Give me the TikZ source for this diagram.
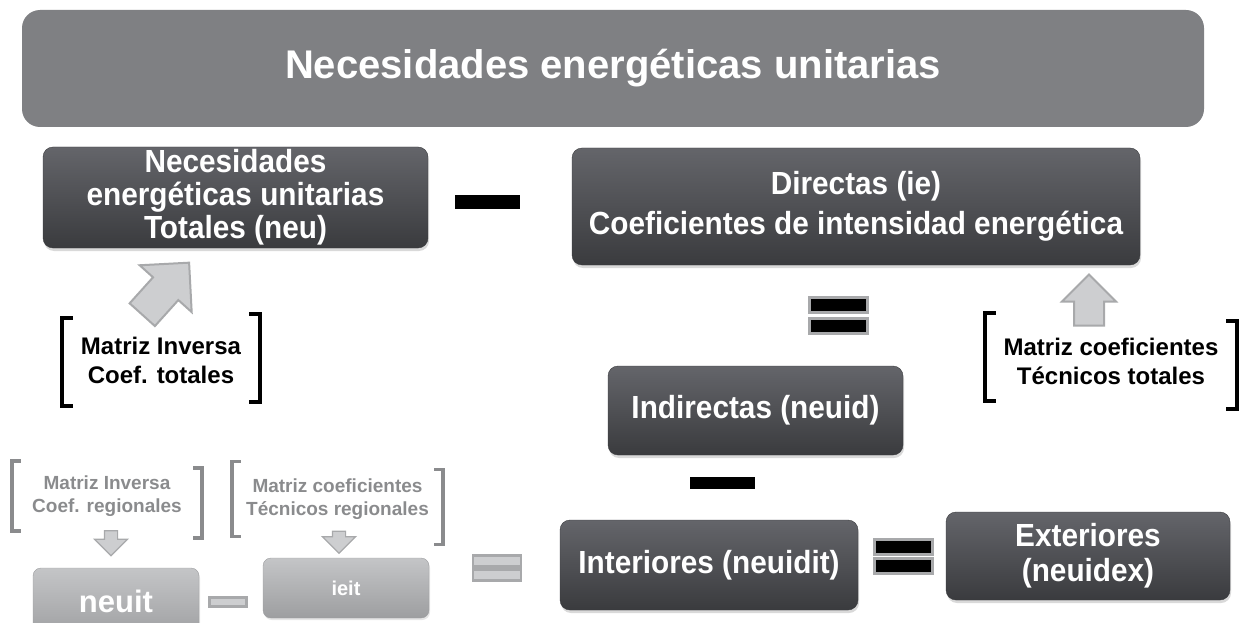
\documentclass[tikz,border=0pt]{standalone}
\usepackage{fontspec}
\setmainfont{Liberation Sans}
\newfontfamily\boxfont[FakeStretch=0.93]{Liberation Sans}
\usetikzlibrary{shapes.arrows,shadows}

\definecolor{titlegray}{HTML}{7F8083}
\definecolor{boxtop}{HTML}{64656A}
\definecolor{boxbot}{HTML}{3A3B3E}
\definecolor{palttop}{HTML}{C4C5C7}
\definecolor{paltbot}{HTML}{9D9EA0}
\definecolor{fadetext}{HTML}{8A8B8D}
\definecolor{arrowfill}{HTML}{CDCED0}
\definecolor{arrowline}{HTML}{A8A9AB}

\begin{document}
\begin{tikzpicture}[x=1pt,y=-1pt]
   \tikzstyle{darkbox}=[rounded corners=10pt, top color=boxtop, bottom color=boxbot, draw=boxbot, text=white, align=center, inner sep=0pt, font=\boxfont\bfseries\fontsize{32}{33}\selectfont, drop shadow={shadow xshift=1pt, shadow yshift=-3pt, opacity=0.3}]
   \tikzstyle{palebox}=[rounded corners=8pt, top color=palttop, bottom color=paltbot, draw=paltbot, text=white, align=center, inner sep=0pt, drop shadow={shadow xshift=1pt, shadow yshift=-2pt, opacity=0.2}]
   \tikzstyle{minusbar}=[rectangle, fill=black, inner sep=0pt]
   \tikzstyle{eqbar}=[rectangle, fill=black, draw=arrowline, line width=3pt, inner sep=0pt, minimum width=58pt, minimum height=15pt]
   \tikzstyle{paleeq}=[rectangle, fill=arrowfill, draw=arrowline, line width=2.5pt, inner sep=0pt, minimum width=48pt, minimum height=11pt]
   \tikzstyle{blockarrow}=[single arrow, fill=arrowfill, draw=arrowline, line width=2pt, inner xsep=0pt]
   \tikzstyle{matrix text}=[align=center, inner sep=0pt, font=\bfseries\fontsize{24}{29}\selectfont]
   \tikzstyle{fade text}=[align=center, inner sep=0pt, text=fadetext, font=\bfseries\fontsize{19}{23}\selectfont]
   \tikzstyle{brk}=[line width=4pt, line cap=rect]
   \tikzstyle{fadebrk}=[line width=3.5pt, draw=fadetext, line cap=rect]

\useasboundingbox (0,0) rectangle (1242,623);

% titulo
\node[rounded corners=18pt, fill=titlegray, minimum width=1182pt, minimum height=117pt, text=white, font=\bfseries\fontsize{40}{44}\selectfont] (title) at (613,68.5) {Necesidades energéticas unitarias};

% fila superior
\node[darkbox, minimum width=385pt, minimum height=101pt] (neu) at (235.5,197.5) {Necesidades\\energéticas unitarias\\Totales (neu)};
\node[minusbar, minimum width=65pt, minimum height=14pt] (menos1) at (487.5,202) {};
\node[darkbox, minimum width=568pt, minimum height=117pt, font=\boxfont\bfseries\fontsize{32}{40}\selectfont] (ie) at (856,206.5) {\raisebox{-4pt}{Directas (ie)}\\\raisebox{-4pt}{Coeficientes de intensidad energética}};

% igual bajo directas
\node[eqbar] (igual1a) at (838,305) {};
\node[eqbar] (igual1b) at (838,326) {};

% matriz inversa totales
\node[matrix text, minimum width=198pt, minimum height=87pt] (invtot) at (161,360) {Matriz Inversa\\Coef. totales};
\draw[brk] ([xshift=9pt,yshift=-2pt]invtot.north west) -| ([yshift=-2pt]invtot.south west) -- ++(9,0);
\draw[brk] ([xshift=-9pt,yshift=2pt]invtot.north east) -| ([yshift=2pt]invtot.south east) -- ++(-9,0);
\node[blockarrow, rotate=48, minimum height=70pt, inner ysep=16pt, single arrow head extend=18pt] (flecha1) at (160,295) {};

% matriz coeficientes totales
\node[matrix text, minimum width=252pt, minimum height=87pt] (coeftot) at (1111,361) {Matriz coeficientes\\Técnicos totales};
\draw[brk] ([xshift=9pt,yshift=4pt]coeftot.north west) -| ([yshift=4pt]coeftot.south west) -- ++(9,0);
\draw[brk] ([xshift=-9pt,yshift=-4pt]coeftot.north east) -| ([yshift=-4pt]coeftot.south east) -- ++(-9,0);
\node[blockarrow, rotate=90, minimum height=51pt, inner ysep=14pt, single arrow head extend=12pt] (flecha2) at (1089,307.5) {};

% indirectas
\node[darkbox, minimum width=295pt, minimum height=89pt] (neuid) at (755.5,410.5) {Indirectas (neuid)};
\node[minusbar, minimum width=65pt, minimum height=12pt] (menos2) at (722,483) {};

% interiores y exteriores
\node[darkbox, minimum width=298pt, minimum height=90pt] (neuidit) at (709,565) {Interiores (neuidit)};
\node[eqbar] (igual2a) at (903,547) {};
\node[eqbar] (igual2b) at (903,566) {};
\node[darkbox, minimum width=284pt, minimum height=88pt, font=\boxfont\bfseries\fontsize{32}{35}\selectfont] (neuidex) at (1088,556) {Exteriores\\(neuidex)};

% parte regional (atenuada)
\node[fade text, minimum width=190pt, minimum height=70pt] (invreg) at (107,496) {Matriz Inversa\\Coef. regionales};
\draw[fadebrk] ([xshift=7pt]invreg.north west) -| (invreg.south west) -- ++(7,0);
\draw[fadebrk] ([xshift=-7pt,yshift=-7pt]invreg.north east) -| ([yshift=-7pt]invreg.south east) -- ++(-7,0);
\node[fade text, minimum width=211pt, minimum height=75pt] (coefreg) at (337.5,499) {Matriz coeficientes\\Técnicos regionales};
\draw[fadebrk] ([xshift=7pt]coefreg.north west) -| (coefreg.south west) -- ++(7,0);
\draw[fadebrk] ([xshift=-7pt,yshift=-8pt]coefreg.north east) -| ([yshift=-8pt]coefreg.south east) -- ++(-7,0);
\node[blockarrow, rotate=-90, minimum height=25pt, inner ysep=6pt, single arrow head extend=10pt, line width=1.2pt] (flecha3) at (111,540) {};
\node[blockarrow, rotate=-90, minimum height=22pt, inner ysep=6pt, single arrow head extend=10pt, line width=1.2pt] (flecha4) at (339,539) {};

\node[palebox, minimum width=166pt, minimum height=72pt, font=\bfseries\fontsize{31}{34}\selectfont] (neuit) at (116,604) {\raisebox{6pt}{neuit}};
\node[paleeq, minimum width=37pt, minimum height=9pt] (menos3) at (228,602) {};
\node[palebox, minimum width=166pt, minimum height=60pt, font=\bfseries\fontsize{20}{22}\selectfont] (ieit) at (346,588) {ieit};
\node[paleeq] (igual3a) at (497,561) {};
\node[paleeq] (igual3b) at (497,575) {};

\end{tikzpicture}
\end{document}
